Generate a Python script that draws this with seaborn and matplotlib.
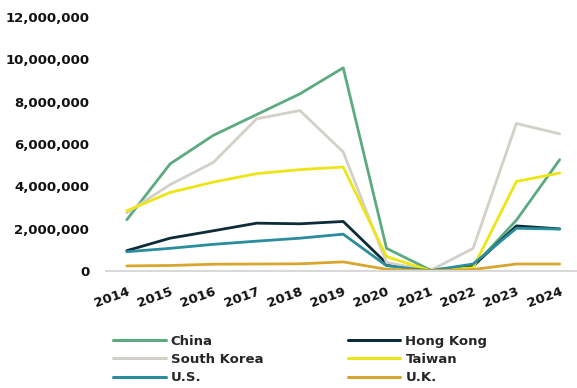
import matplotlib
matplotlib.use("Agg")
import matplotlib.pyplot as plt
import matplotlib.ticker as mticker
import pandas as pd
import seaborn as sns

years = [2014, 2015, 2016, 2017, 2018, 2019, 2020, 2021, 2022, 2023, 2024]
year_labels = [str(y) for y in years]

china = [2420000, 5060000, 6410000, 7390000, 8370000, 9600000, 1070000, 60000, 200000, 2400000, 5260000]
hong_kong = [960000, 1550000, 1900000, 2260000, 2230000, 2340000, 360000, 10000, 240000, 2130000, 1990000]
south_korea = [2750000, 4080000, 5130000, 7190000, 7580000, 5620000, 400000, 10000, 1070000, 6970000, 6480000]
taiwan = [2840000, 3710000, 4200000, 4600000, 4790000, 4910000, 680000, 20000, 150000, 4230000, 4630000]
us = [910000, 1070000, 1260000, 1410000, 1550000, 1740000, 250000, 10000, 330000, 2020000, 1980000]
uk = [240000, 260000, 320000, 330000, 340000, 430000, 80000, 10000, 70000, 330000, 330000]

series_names = ["China", "Hong Kong", "South Korea", "Taiwan", "U.S.", "U.K."]
series_values = [china, hong_kong, south_korea, taiwan, us, uk]
colors = ["#5BAA80", "#0D2B39", "#D2D0C7", "#EDE515", "#2A8D9D", "#D8A62F"]

rows = []
for name, vals in zip(series_names, series_values):
    for i, v in enumerate(vals):
        rows.append({"idx": i, "value": v, "market": name})
df = pd.DataFrame(rows)

sns.set_theme(style="white")
plt.rcParams["font.family"] = ["DejaVu Sans"]

fig = plt.figure(figsize=(5.77, 3.88), dpi=100)
ax = fig.add_axes([106 / 577, 1 - 271 / 388, 1 - 106 / 577, (271 - 17) / 388])

sns.lineplot(data=df, x="idx", y="value", hue="market", hue_order=series_names,
             palette=dict(zip(series_names, colors)), linewidth=2, ax=ax,
             legend=False)

ax.set_xlim(-0.48, 10.4)
ax.set_ylim(0, 12000000)
ax.yaxis.set_major_locator(mticker.MultipleLocator(2000000))
ax.yaxis.set_major_formatter(mticker.FuncFormatter(lambda v, p: f"{int(v):,}"))
ax.set_xticks(range(len(years)))
ax.set_xticklabels(year_labels, rotation=20, ha="right", rotation_mode="anchor")
ax.set_xlabel("")
ax.set_ylabel("")
for lbl in ax.get_xticklabels() + ax.get_yticklabels():
    lbl.set_fontweight("bold")
    lbl.set_fontsize(9.5)
    lbl.set_color("#111111")
ax.tick_params(axis="both", length=0)
ax.tick_params(axis="y", pad=12)
ax.tick_params(axis="x", pad=10)

for s in ["top", "right", "left"]:
    ax.spines[s].set_visible(False)
ax.spines["bottom"].set_color("#D9D9D9")
ax.spines["bottom"].set_linewidth(1.5)
ax.grid(False)

# legend filled column by column, so order entries to read row-wise
order = [0, 2, 4, 1, 3, 5]
handles = [plt.Line2D([], [], color=colors[i], linewidth=2.2) for i in order]
labels = [series_names[i] for i in order]
fig.legend(handles, labels, loc="upper left", bbox_to_anchor=(101 / 577, 1 - 323 / 388),
           ncol=2, frameon=False, handlelength=4.0, handletextpad=0.38,
           columnspacing=6.4, labelspacing=0.39,
           prop={"weight": "bold", "size": 9.5})

fig.savefig("out.png", dpi=100)
